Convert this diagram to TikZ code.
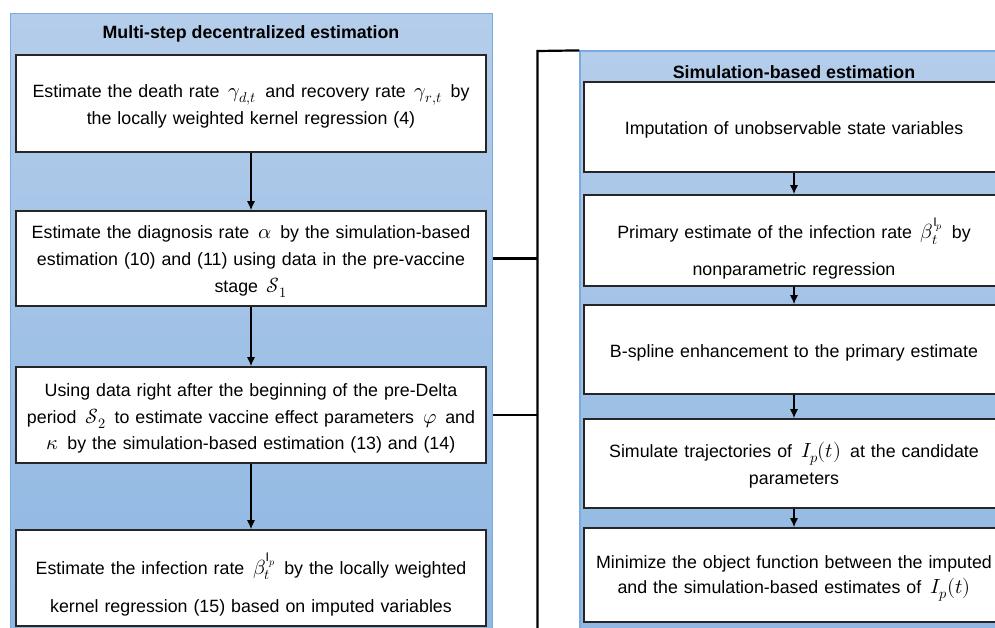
\documentclass[tikz,border=0pt]{standalone}
\usepackage{fontspec}
\usepackage{unicode-math}
\setmainfont{Liberation Sans}
\setmathfont{Latin Modern Math}[Scale=1.15]
\usetikzlibrary{arrows.meta}
\definecolor{paneltop}{RGB}{180,205,234}
\definecolor{panelbot}{RGB}{141,182,226}
\definecolor{panelline}{RGB}{122,170,224}
\begin{document}
\begin{tikzpicture}[x=1pt,y=-1pt,
    font=\fontsize{17.8}{26.7}\selectfont,
    panel/.style={draw=panelline,line width=1.2pt,top color=paneltop,bottom color=panelbot,inner sep=0pt},
    title/.style={font=\fontsize{17.8}{26.7}\selectfont\bfseries},
    stepbox/.style={draw=black!85,line width=1.6pt,fill=white,align=center,inner sep=0pt},
    leftbox/.style={stepbox,minimum width=470pt,text width=460pt},
    rightbox/.style={stepbox,minimum width=420pt,text width=418pt},
    drop/.style={execute at begin node={\rule{0pt}{#1}}},
    flow/.style={-{Latex[length=9pt,width=8pt]},line width=1.3pt},
    link/.style={line width=2.2pt}]
        \path[use as bounding box,clip] (0,0) rectangle (995,627);
        \fill[white] (0,0) rectangle (995,627);
        % panels
        \node[panel,minimum width=482pt,minimum height=640pt] (multi) at (251.5,333.3) {};
        \node[panel,minimum width=428pt,minimum height=620pt] (sim) at (794,361) {};
        \node[title] (multititle) at (251,34) {Multi-step decentralized estimation};
        \node[title] (simtitle) at (794,72) {Simulation-based estimation};
        % left steps
        \node[leftbox,drop=19pt,minimum height=97pt] (b1) at (251,103.5) {Estimate the death rate \,$\gamma_{d,t}$\, and recovery rate \,$\gamma_{r,t}$\, by\\ the locally weighted kernel regression (4)};
        \node[leftbox,drop=19pt,minimum height=95pt] (b2) at (251,258.5) {Estimate the diagnosis rate \,$\alpha$\, by the simulation-based\\ estimation (10) and (11) using data in the pre-vaccine\\ stage \,$\mathcal{S}_1$};
        \node[leftbox,drop=20pt,minimum height=96pt] (b3) at (251,415) {Using data right after the beginning of the pre-Delta\\ period \,$\mathcal{S}_2$\, to estimate vaccine effect parameters \,$\varphi$\, and\\ $\kappa$\, by the simulation-based estimation (13) and (14)};
        \node[leftbox,drop=34pt,minimum height=96pt] (b4) at (251,578) {Estimate the infection rate \,$\beta_t^{\mathrm{I}_p}$\, by the locally weighted\\[11pt] kernel regression (15) based on imputed variables};
        % right steps
        \node[rightbox,drop=19pt,minimum height=90pt] (r1) at (794,127) {Imputation of unobservable state variables};
        \node[rightbox,drop=37pt,minimum height=91pt] (r2) at (794,240.5) {Primary estimate of the infection rate \,$\beta_t^{\mathrm{I}_p}$\, by\\[10pt] nonparametric regression};
        \node[rightbox,drop=19pt,minimum height=89pt] (r3) at (794,349.5) {B-spline enhancement to the primary estimate};
        \node[rightbox,drop=18pt,minimum height=89pt] (r4) at (794,463.5) {Simulate trajectories of \,$I_p(t)$\, at the candidate\\ parameters};
        \node[rightbox,drop=20pt,minimum height=94pt] (r5) at (794,575) {Minimize the object function between the imputed\\[-2pt] and the simulation-based estimates of \,$I_p(t)$};
        % arrows
        \draw[flow] (b1) -- (b2);
        \draw[flow] (b2) -- (b3);
        \draw[flow] (b3) -- (b4);
        \draw[flow] (r1) -- (r2);
        \draw[flow] (r2) -- (r3);
        \draw[flow] (r3) -- (r4);
        \draw[flow] (r4) -- (r5);
        % bracket
        \coordinate (brtop) at (537.5,51);
        \coordinate (brbot) at (537.5,640);
        \draw[link] (sim.north west) -- (brtop) -- (brbot);
        \draw[link] (multi.east |- b2.east) -- (brtop |- b2.east);
        \draw[link] (multi.east |- b3.east) -- (brtop |- b3.east);
\end{tikzpicture}
\end{document}
